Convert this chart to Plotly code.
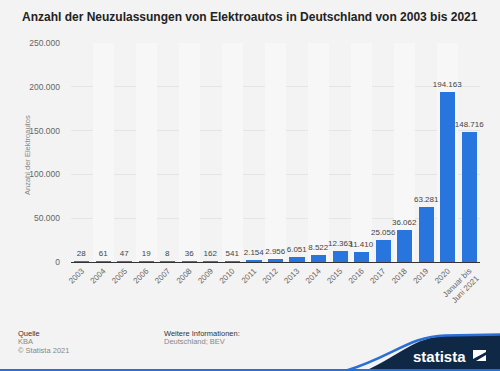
import plotly.graph_objects as go

categories = ["2003", "2004", "2005", "2006", "2007", "2008", "2009", "2010", "2011",
              "2012", "2013", "2014", "2015", "2016", "2017", "2018", "2019", "2020",
              "Januar bis<br>Juni 2021"]
values = [28, 61, 47, 19, 8, 36, 162, 541, 2154, 2956, 6051, 8522, 12363, 11410,
          25056, 36062, 63281, 194163, 148716]
y_ticks = [0, 50000, 100000, 150000, 200000, 250000]

def de(n):
    return f"{n:,}".replace(",", ".")

W, H = 500, 371
L, R, T, B = 71, 20, 43, 109
PW, PH = W - L - R, H - T - B

def px(x):
    return (x - L) / PW

def py(y):
    return (H - B - y) / PH

fig = go.Figure()

# alternating background bands
band_vals = [250000 if i % 2 == 1 else 0 for i in range(len(categories))]
fig.add_trace(go.Bar(x=categories, y=band_vals, width=1.0,
                     marker=dict(color="#f7f7f7", line=dict(width=0)),
                     hoverinfo="skip", showlegend=False))

fig.add_trace(go.Bar(
    x=categories, y=values, width=0.7,
    marker=dict(color="#2876dd", line=dict(width=0)),
    text=[de(v) for v in values], textposition="outside", cliponaxis=False,
    constraintext="none", textangle=0,
    textfont=dict(family="Liberation Sans, Arial", size=8, color="#444"),
    showlegend=False))

shapes = []
# navy wave
shapes.append(dict(type="path", xref="paper", yref="paper", layer="above",
                   path=(f"M {px(365)},{py(371)} C {px(400)},{py(355)} {px(415)},{py(337)} {px(445)},{py(336)} "
                         f"L {px(500)},{py(335)} L {px(500)},{py(371)} Z"),
                   fillcolor="#0f2846", line=dict(width=0)))
shapes.append(dict(type="path", xref="paper", yref="paper", layer="above",
                   path=(f"M {px(345)},{py(371)} C {px(390)},{py(358)} {px(410)},{py(336)} {px(445)},{py(335.5)} "
                         f"L {px(500)},{py(334.5)}"),
                   line=dict(width=2.5, color="#2a6fd6")))
shapes.append(dict(type="line", xref="paper", yref="paper", layer="above",
                   x0=px(0), x1=px(500), y0=py(370), y1=py(370),
                   line=dict(width=2, color="#2a6fd6")))
# logo icon
shapes.append(dict(type="path", xref="paper", yref="paper", layer="above",
                   path=(f"M {px(473)},{py(350)} L {px(486)},{py(350)} L {px(486)},{py(361)} "
                         f"L {px(473)},{py(361)} Z"),
                   fillcolor="white", line=dict(width=0)))
shapes.append(dict(type="path", xref="paper", yref="paper", layer="above",
                   path=(f"M {px(473)},{py(359)} L {px(486)},{py(352)} L {px(486)},{py(355)} "
                         f"L {px(476)},{py(361)} L {px(473)},{py(361)} Z"),
                   fillcolor="#0f2846", line=dict(width=0)))

ann = []
ann.append(dict(text="<b>Anzahl der Neuzulassungen von Elektroautos in Deutschland von 2003 bis 2021</b>",
                xref="paper", yref="paper", x=px(250), y=py(17), showarrow=False,
                xanchor="center", yanchor="middle",
                font=dict(family="Liberation Sans, Arial", size=12, color="#222")))
ann.append(dict(text="Anzahl der Elektroautos", xref="paper", yref="paper", x=px(27), y=py(155),
                showarrow=False, textangle=-90, xanchor="center", yanchor="middle",
                font=dict(family="Liberation Sans, Arial", size=7.5, color="#888")))
foot = [("Quelle", 16, 333, "#333"), ("KBA", 16, 341.5, "#888"), ("© Statista 2021", 16, 350, "#888"),
        ("Weitere Informationen:", 162, 333, "#333"), ("Deutschland; BEV", 162, 341.5, "#888")]
for t, x, y, c in foot:
    ann.append(dict(text=t, xref="paper", yref="paper", x=px(x), y=py(y), showarrow=False,
                    xanchor="left", yanchor="middle",
                    font=dict(family="Liberation Sans, Arial", size=7.5, color=c)))
ann.append(dict(text="<b>statista</b>", xref="paper", yref="paper", x=px(468), y=py(356),
                showarrow=False, xanchor="right", yanchor="middle",
                font=dict(family="Liberation Sans, Arial", size=15, color="white")))

fig.update_layout(
    width=W, height=H, margin=dict(l=L, r=R, t=T, b=B),
    paper_bgcolor="#f3f3f3", plot_bgcolor="#f3f3f3",
    barmode="overlay", bargap=0,
    shapes=shapes, annotations=ann,
    font=dict(family="Liberation Sans, Arial", color="#666"),
    xaxis=dict(type="category", tickangle=-45, tickfont=dict(size=8, color="#666"),
               showline=True, linecolor="#333", linewidth=1.2, showgrid=False,
               ticks="", range=[-0.5, len(categories) - 0.5], fixedrange=True),
    yaxis=dict(range=[0, 250000], tickvals=y_ticks, ticktext=[de(v) for v in y_ticks],
               tickfont=dict(size=8.5, color="#666"), showgrid=True, gridcolor="#e4e4e4",
               gridwidth=1, zeroline=False, ticks="", ticklabelstandoff=10),
)

fig.write_html("out.html", config={"displayModeBar": False},
               post_script="document.body.style.margin='0';document.body.style.padding='0';")
